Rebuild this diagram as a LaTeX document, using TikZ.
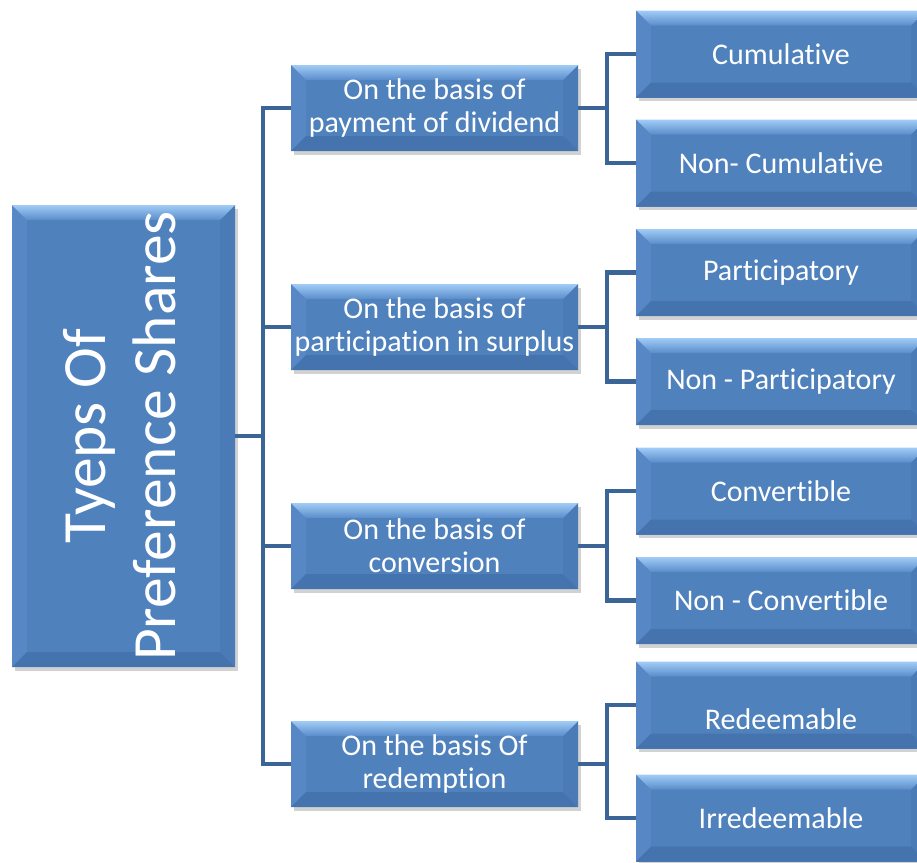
\documentclass[tikz,border=0pt]{standalone}
\usepackage{fontspec}
\setmainfont{Carlito}[Ligatures=NoCommon]
\usetikzlibrary{calc,shadows}
\definecolor{face}{HTML}{4F81BD}
\definecolor{bvtopa}{HTML}{A0CCF6}
\definecolor{bvtopb}{HTML}{5A8CCA}
\definecolor{bvleft}{HTML}{5787C4}
\definecolor{bvright}{HTML}{4A7BB7}
\definecolor{bvbot}{HTML}{4573AE}
\definecolor{conncol}{HTML}{3B6597}
\tikzset{
  bevelbox/.style={
    rectangle, inner sep=0pt, fill=face, text=white, align=center,
    font=\fontsize{30}{33}\selectfont,
    drop shadow={shadow xshift=2.5pt, shadow yshift=-3.5pt, opacity=0.25, fill=black!70},
    path picture={
      \coordinate (bvnw) at (path picture bounding box.north west);
      \coordinate (bvne) at (path picture bounding box.north east);
      \coordinate (bvsw) at (path picture bounding box.south west);
      \coordinate (bvse) at (path picture bounding box.south east);
      \fill[bvleft] (bvnw) -- ($(bvnw)+(\bvw,\bvw)$) -- ($(bvsw)+(\bvw,-\bvw)$) -- (bvsw) -- cycle;
      \fill[bvright] (bvne) -- ($(bvne)+(-\bvw,\bvw)$) -- ($(bvse)+(-\bvw,-\bvw)$) -- (bvse) -- cycle;
      \fill[bvbot] (bvsw) -- ($(bvsw)+(\bvw,-\bvw)$) -- ($(bvse)+(-\bvw,-\bvw)$) -- (bvse) -- cycle;
      \shade[top color=bvtopa, bottom color=bvtopb] (bvnw) -- ($(bvnw)+(\bvw,\bvw)$) -- ($(bvne)+(-\bvw,\bvw)$) -- (bvne) -- cycle;
    }},
  midbox/.style={bevelbox, minimum width=287pt, minimum height=86pt},
  leafbox/.style={bevelbox, minimum width=290pt, minimum height=87pt},
  conn/.style={draw=conncol, line width=4.5pt}
}
\newcommand{\bvw}{15}
\begin{document}
\begin{tikzpicture}[x=1pt,y=-1pt]
\useasboundingbox (0,0) rectangle (917,862);
% root
\node[bevelbox, minimum width=223pt, minimum height=462pt] (root) at (123.5,436)
  {\hspace*{5pt}\rotatebox{90}{\fontsize{61.5}{70}\selectfont\begin{tabular}{@{}c@{}}Tyeps Of\\Preference Shares\end{tabular}}};
% middle level
\node[midbox] (m1) at (434.5,108) {On the basis of\\payment of dividend};
\node[midbox] (m2) at (434.5,327) {On the basis of\\participation in surplus};
\node[midbox] (m3) at (434.5,546) {On the basis of\\conversion};
\node[midbox] (m4) at (434.5,764) {On the basis Of\\redemption};
% leaves
\node[leafbox] (r1) at (781,54) {Cumulative};
\node[leafbox] (r2) at (781,163) {Non- Cumulative};
\node[leafbox] (r3) at (781,272.5) {Participatory};
\node[leafbox] (r4) at (781,381.5) {Non - Participatory};
\node[leafbox] (r5) at (781,491) {Convertible};
\node[leafbox] (r6) at (781,600.5) {Non - Convertible};
\node[leafbox] (r7) at (781,705) {\raisebox{-24pt}[0pt][0pt]{Redeemable}};
\node[leafbox] (r8) at (781,818) {Irredeemable};
% trunk connectors
\coordinate (tk) at ($(root.east)!0.5!(m1.west)$);
\draw[conn] (root.east) -- (root.east -| tk);
\draw[conn] (m1.west) -- (m1.west -| tk) -- (m4.west -| tk) -- (m4.west);
\draw[conn] (m2.west) -- (m2.west -| tk);
\draw[conn] (m3.west) -- (m3.west -| tk);
% branch connectors
\foreach \m/\a/\b in {m1/r1/r2, m2/r3/r4, m3/r5/r6, m4/r7/r8}{
  \coordinate (bx) at ($(\m.east)!0.5!(\a.west)$);
  \draw[conn] (\a.west) -- (\a.west -| bx) -- (\b.west -| bx) -- (\b.west);
  \draw[conn] (\m.east) -- (\m.east -| bx);
}
\end{tikzpicture}
\end{document}
